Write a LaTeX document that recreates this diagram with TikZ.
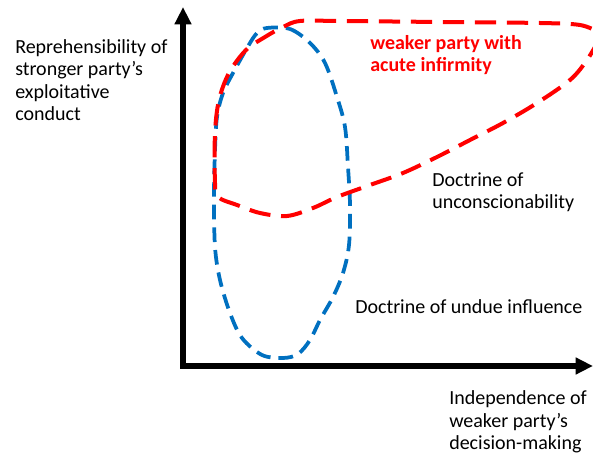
\documentclass[tikz,border=0pt]{standalone}
\usepackage{fontspec}
\setmainfont{Carlito}
\usetikzlibrary{arrows.meta}

\definecolor{undueblue}{RGB}{0,112,192}
\definecolor{unconred}{RGB}{255,0,0}

\tikzset{
  axis/.style={line width=3.8pt, -{Triangle[length=13pt,width=12pt]}},
  label/.style={anchor=west, align=left, inner sep=0pt, font=\fontsize{15}{16.9}\selectfont},
  undueline/.style={undueblue, line width=2.8pt, dash pattern=on 11pt off 6pt},
  unconline/.style={unconred, line width=3pt, dash pattern=on 16pt off 8pt}
}

\begin{document}
\begin{tikzpicture}[x=0.75pt, y=-0.75pt]
        \useasboundingbox (0,0) rectangle (593,456);
        % Axes
        \coordinate (origin) at (183,366);
        \coordinate (ytip) at (183,7);
        \coordinate (xtip) at (593,366);
        \draw[axis] ([yshift=-1.9pt]origin) -- (ytip);
        \draw[axis] ([xshift=-1.9pt]origin) -- (xtip);
        % Undue influence
        \draw[undueline] plot[smooth cycle, tension=0.55] coordinates {
          (267,28) (290,29) (310,43) (325,63) (337,97) (345,127) (348,167)
          (350,205) (349,245) (343,273) (333,297) (320,320) (310,340)
          (298,354) (283,358) (262,355) (242,338) (230,313) (220,280)
          (215,247) (214,197) (215,150) (217,117) (223,93) (233,73)
          (247,48) (257,33)};
        % Unconscionability
        \begin{scope}
          \clip (0,0) rectangle (593,456);
          \draw[unconline] plot[smooth, tension=0.55] coordinates {
            (600,38) (587,60) (570,80) (537,103) (503,123) (470,140)
            (437,157) (403,173) (370,185) (337,197) (313,208) (287,216)
            (260,213) (237,205) (218,197) (215,183) (215,133) (219,100)
            (229,73) (246,50) (265,37) (283,27) (300,21) (340,21) (440,22)
            (540,23) (580,25) (598,32)};
        \end{scope}
        % Labels
        \node[label] (yname) at (15,80) {Reprehensibility of\\stronger party’s\\exploitative\\conduct};
        \node[label, text=unconred, font=\fontsize{15}{16.9}\selectfont\bfseries] (acute) at (370,55) {weaker party with\\acute infirmity};
        \node[label] (uncon) at (432,192) {Doctrine of\\unconscionability};
        \node[label] (undue) at (355,307) {Doctrine of undue influence};
        \node[label] (xname) at (449,422) {Independence of\\weaker party’s\\decision-making};
\end{tikzpicture}
\end{document}
